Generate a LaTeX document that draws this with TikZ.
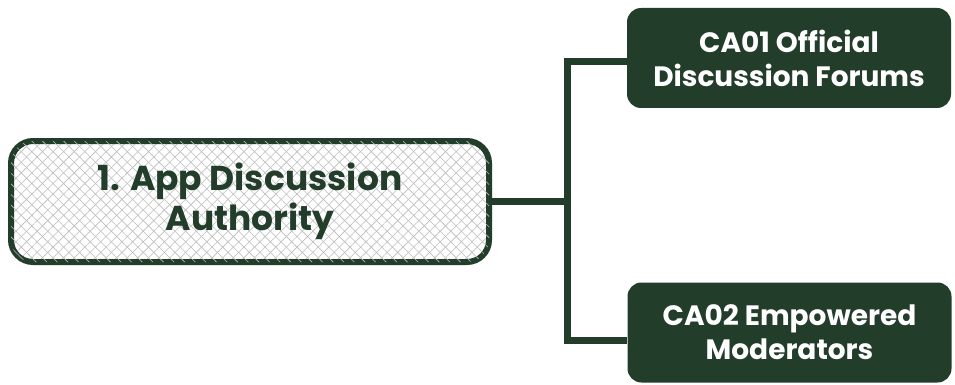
\documentclass[tikz,border=0pt]{standalone}
\usepackage{fontspec}
\setmainfont{Poppins}
\usetikzlibrary{patterns.meta}
\definecolor{forest}{HTML}{233D2B}
\definecolor{hatch}{HTML}{BDBDBD}
\begin{document}
\begin{tikzpicture}[x=1pt,y=-1pt,
  conn/.style={draw=forest,line width=7pt},
  rootbox/.style={draw=forest,line width=6pt,rounded corners=22pt,
    minimum width=478pt,minimum height=121pt,align=center,
    text=forest,font=\fontsize{34.5}{40}\selectfont\bfseries,
    preaction={fill=white},
    pattern={Lines[angle=45,distance=7.5pt,line width=0.6pt]},pattern color=hatch,
    postaction={pattern={Lines[angle=-45,distance=7.5pt,line width=0.6pt]},pattern color=hatch}},
  leafbox/.style={fill=forest,rounded corners=14pt,minimum width=324pt,
    minimum height=100pt,align=center,text=white,
    font=\fontsize{28}{34}\selectfont\bfseries}]
\useasboundingbox (0,0) rectangle (955,385);
% connectors
\coordinate (jt) at (567,62);
\coordinate (jb) at (567,340);
\node[leafbox] (ca01) at (789,58) {CA01 Official\\Discussion Forums};
\node[leafbox] (ca02) at (789.5,332.5) {CA02 Empowered\\Moderators};
\draw[conn] (ca01.west |- jt) -- (jt) -- (jb) -- (ca02.west |- jb);
\node[rootbox] (root) at (250,201.5) {1. App Discussion\\Authority};
\draw[conn] (root.east) -- (root.east -| jt);
\end{tikzpicture}
\end{document}
